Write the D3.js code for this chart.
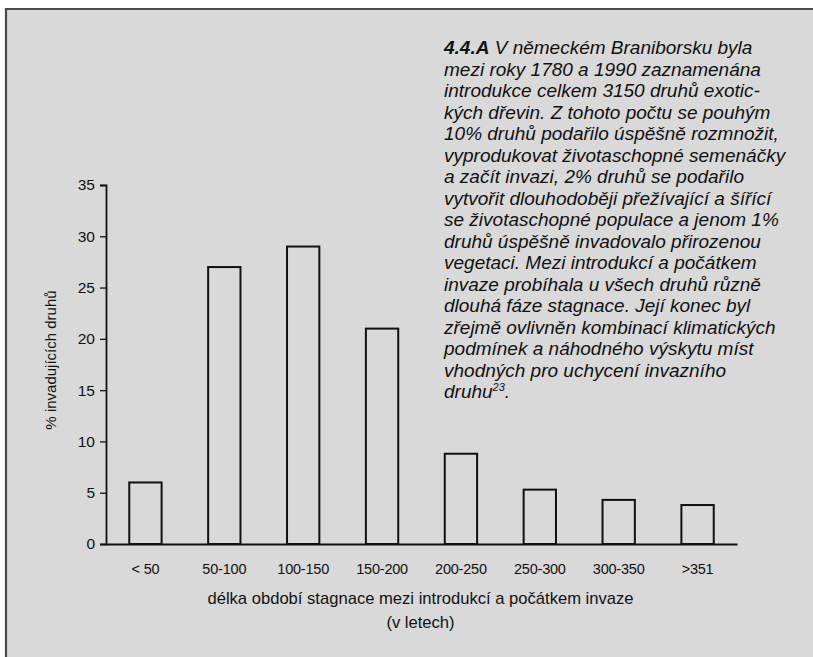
<!DOCTYPE html>
<html>
<head>
<meta charset="utf-8">
<script src="https://cdn.jsdelivr.net/npm/d3@7"></script>
<style>
  body { margin: 0; background: #ffffff; }
  svg text { font-family: 'Liberation Sans', Arial, sans-serif; fill: #111; }
</style>
</head>
<body>
<div id="graph"></div>
<script>
// The data...
var categories = [ '< 50', '50-100', '100-150', '150-200', '200-250', '250-300', '300-350', '>351' ];
var values     = [ 6, 27, 29, 21, 8.8, 5.3, 4.3, 3.8 ];
var yTicks     = [ 0, 5, 10, 15, 20, 25, 30, 35 ];

var xTitle  = [ 'délka období stagnace mezi introdukcí a počátkem invaze', '(v letech)' ];
var yTitle  = '% invadujících druhů';

var captionLines = [
    'V německém Braniborsku byla',
    'mezi roky 1780 a 1990 zaznamenána',
    'introdukce celkem 3150 druhů exotic-',
    'kých dřevin. Z tohoto počtu se pouhým',
    '10% druhů podařilo úspěšně rozmnožit,',
    'vyprodukovat životaschopné semenáčky',
    'a začít invazi, 2% druhů se podařilo',
    'vytvořit dlouhodoběji přežívající a šířící',
    'se životaschopné populace a jenom 1%',
    'druhů úspěšně invadovalo přirozenou',
    'vegetaci. Mezi introdukcí a počátkem',
    'invaze probíhala u všech druhů různě',
    'dlouhá fáze stagnace. Její konec byl',
    'zřejmě ovlivněn kombinací klimatických',
    'podmínek a náhodného výskytu míst',
    'vhodných pro uchycení invazního',
    'druhu'
];

var W = 813, H = 657;

var svg = d3.select ('#graph').append ('svg')
            .attr ('width', W)
            .attr ('height', H);

// grey panel with the frame on top and left
svg.append ('rect')
   .attr ('x', 6).attr ('y', 9)
   .attr ('width', W - 6).attr ('height', H - 9)
   .attr ('fill', '#d9d9d9');

svg.append ('path')
   .attr ('d', 'M6,' + H + 'V9H' + W)
   .attr ('fill', 'none')
   .attr ('stroke', '#4a4a4a')
   .attr ('stroke-width', 2.2);

// plot area
var x0 = 106, x1 = 737, yBase = 544, yTop = 185;

var xScale = d3.scaleBand ()
               .domain (categories)
               .range ([ x0, x1 ])
               .paddingInner (0.59)
               .paddingOuter (0.295);

var yScale = d3.scaleLinear ()
               .domain ([ 0, 35 ])
               .range ([ yBase, yTop ]);

// y axis
var yAxis = d3.axisLeft (yScale)
              .tickValues (yTicks)
              .tickSize (6)
              .tickPadding (5);

var gy = svg.append ('g')
            .attr ('transform', 'translate(' + x0 + ',0)')
            .call (yAxis);

gy.select ('.domain').attr ('stroke', '#111').attr ('stroke-width', 1.8);
gy.selectAll ('.tick line').attr ('stroke', '#111').attr ('stroke-width', 1.3);
gy.selectAll ('.tick text')
  .attr ('font-size', '15.5px')
  .attr ('font-family', "'Liberation Sans', Arial, sans-serif")
  .attr ('fill', '#111');

// x axis (no ticks)
var xAxis = d3.axisBottom (xScale)
              .tickSize (0)
              .tickPadding (20);

var gx = svg.append ('g')
            .attr ('transform', 'translate(0,' + yBase + ')')
            .call (xAxis);

gx.select ('.domain').attr ('stroke', '#111').attr ('stroke-width', 1.8);
gx.selectAll ('.tick text')
  .attr ('font-size', '14.5px')
  .attr ('font-family', "'Liberation Sans', Arial, sans-serif")
  .attr ('fill', '#111')
  .attr ('letter-spacing', '-0.2px');

// bars
svg.selectAll ('rect.bar')
   .data (values)
   .enter ()
   .append ('rect')
   .attr ('class', 'bar')
   .attr ('x',      function (d, i) { return xScale (categories[i]); })
   .attr ('y',      function (d)    { return yScale (d); })
   .attr ('width',  xScale.bandwidth ())
   .attr ('height', function (d)    { return yScale (0) - yScale (d); })
   .attr ('fill', 'none')
   .attr ('stroke', '#111')
   .attr ('stroke-width', 2);

// axis titles
svg.selectAll ('text.xtitle')
   .data (xTitle)
   .enter ()
   .append ('text')
   .attr ('class', 'xtitle')
   .attr ('x', (x0 + x1) / 2 - 1)
   .attr ('y', function (d, i) { return 604 + i * 24; })
   .attr ('text-anchor', 'middle')
   .attr ('font-size', '16.6px')
   .text (function (d) { return d; });

svg.append ('text')
   .attr ('transform', 'translate(56,' + 360 + ') rotate(-90)')
   .attr ('text-anchor', 'middle')
   .attr ('font-size', '15px')
   .text (yTitle);

// caption
var cap = svg.append ('text')
             .attr ('font-size', '19px')
             .attr ('font-style', 'italic');

captionLines.forEach (function (line, i)
{
    var t = cap.append ('tspan')
               .attr ('x', 444)
               .attr ('y', 54 + i * 21.5);

    if (i == 0)
    {
        t.append ('tspan').attr ('font-weight', 'bold').text ('4.4.A');
        t.append ('tspan').text (' ' + line);
    }
    else if (i == captionLines.length - 1)
    {
        t.append ('tspan').text (line);
        t.append ('tspan').attr ('font-size', '11px').attr ('dy', -7).text ('23');
        t.append ('tspan').attr ('dy', 7).text ('.');
    }
    else
        t.text (line);
});
</script>
</body>
</html>
